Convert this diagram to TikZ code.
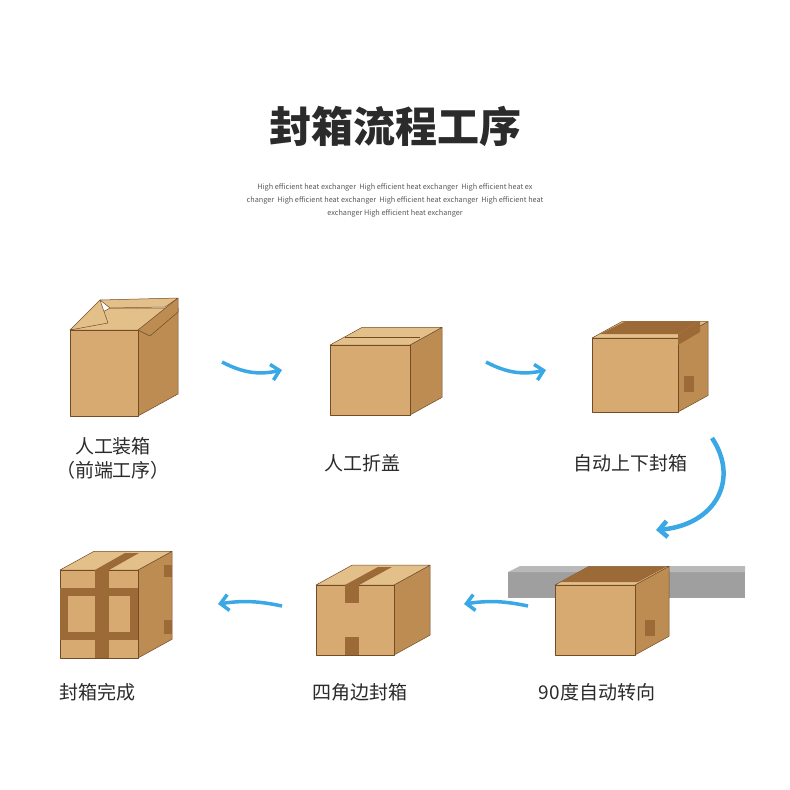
\documentclass[tikz,border=0pt]{standalone}
\usepackage{fontspec}
\setmainfont{Noto Sans CJK SC}
\usetikzlibrary{arrows.meta}
\definecolor{boxfront}{HTML}{D6AA70}
\definecolor{boxside}{HTML}{BC8C52}
\definecolor{boxtop}{HTML}{E3C08A}
\definecolor{tape}{HTML}{9C6A36}
\definecolor{flowblue}{HTML}{3AA8E4}
\definecolor{titlegray}{HTML}{2B2B2B}
\tikzset{
  label/.style={font=\fontsize{19}{24}\selectfont, align=center, text=titlegray},
  flow/.style={flowblue, line width=3.5pt, -{Straight Barb[length=8pt,width=16pt]}},
  edge/.style={draw=brown!60!black, line width=0.5pt, line join=round},
}
% x y w h d : front face top-left (x,y), width, height, depth
\newcommand{\cardbox}[5]{%
  \fill[boxside,edge] (#1+#3,#2) -- ++(#5,-#5*0.55) -- ++(0,#4) -- ++(-#5,#5*0.55) -- cycle;
  \fill[boxtop,edge] (#1,#2) -- ++(#5,-#5*0.55) -- ++(#3,0) -- ++(-#5,#5*0.55) -- cycle;
  \fill[boxfront,edge] (#1,#2) rectangle ++(#3,#4);
}
\begin{document}
\begin{tikzpicture}[x=1pt,y=-1pt]
  \useasboundingbox (0,0) rectangle (790,790);
  \fill[white] (0,0) rectangle (790,790);
  % title
  \node (title) at (395,126) [text=titlegray] {\fontsize{42}{46}\selectfont\bfseries 封箱流程工序};
  \node (sub) at (395,200) [align=center, text=gray!70!black,
    font=\fontsize{7.3}{13}\selectfont]
    {High efficient heat exchanger\ \ High efficient heat exchanger\ \ High efficient heat ex\\
     changer\ \ High efficient heat exchanger\ \ High efficient heat exchanger\ \ High efficient heat\\
     exchanger High efficient heat exchanger};
  % box 1: open
  \cardbox{70}{330}{68}{86}{40}
  \fill[boxtop,edge] (70,330) -- (100,300) -- (108,323) -- cycle;
  \fill[boxside,edge] (138,330) -- (178,298) -- (178,312) -- (150,336) -- cycle;
  \fill[boxtop,edge] (110,308) -- (100,300) -- (178,298) -- (165,307) -- cycle;
  % box 2: flaps folded
  \cardbox{330}{345}{80}{70}{32}
  \draw[edge] (345,337) -- (420,337);
  % box 3: taped top
  \cardbox{592}{338}{86}{74}{30}
  \fill[tape] (600,334) -- (626,321) -- (700,321) -- (678,334) -- cycle;
  \fill[tape] (678,334) -- (700,321) -- (700,332) -- (678,345) -- cycle;
  \fill[tape] (684,376) rectangle ++(10,16);
  % box 4: finished
  \cardbox{60}{570}{78}{88}{34}
  \fill[tape] (95,570) rectangle ++(14,88);
  \fill[tape] (60,588) rectangle ++(78,8);
  \fill[tape] (60,632) rectangle ++(78,8);
  \fill[tape] (60,596) rectangle ++(8,36);
  \fill[tape] (130,596) rectangle ++(8,36);
  \fill[tape] (95,570) -- (125,553) -- (139,553) -- (109,570) -- cycle;
  \fill[tape] (164,565) rectangle ++(8,12);
  \fill[tape] (164,620) rectangle ++(8,14);
  % box 5: corner taped
  \cardbox{316}{585}{78}{70}{36}
  \fill[tape] (345,585) rectangle ++(14,18);
  \fill[tape] (345,637) rectangle ++(14,18);
  \fill[tape] (345,585) -- (378,567) -- (392,567) -- (359,585) -- cycle;
  % box 6: conveyor
  \fill[gray!75] (508,572) rectangle (745,598);
  \fill[gray!55] (508,572) -- (520,566) -- (745,566) -- (745,572) -- cycle;
  \cardbox{555}{585}{80}{70}{34}
  \fill[tape] (560,582) -- (588,567) -- (666,567) -- (638,582) -- cycle;
  \fill[tape] (645,620) rectangle ++(10,16);
  % labels
  \node[label] (l1) at (113,458) {人工装箱\\（前端工序）};
  \node[label] (l2) at (362,463) {人工折盖};
  \node[label] (l3) at (630,463) {自动上下封箱};
  \node[label] (l4) at (97,692) {封箱完成};
  \node[label] (l5) at (360,692) {四角边封箱};
  \node[label] (l6) at (597,692) {90度自动转向};
  % flow arrows
  \coordinate (a1s) at (222,362); \coordinate (a1e) at (282,370);
  \coordinate (a2s) at (486,362); \coordinate (a2e) at (546,370);
  \coordinate (a3s) at (712,438); \coordinate (a3e) at (656,530);
  \coordinate (a4s) at (282,606); \coordinate (a4e) at (218,604);
  \coordinate (a5s) at (528,606); \coordinate (a5e) at (464,604);
  \draw[flow] (a1s) to[bend right=20] (a1e);
  \draw[flow] (a2s) to[bend right=20] (a2e);
  \draw[flow, line width=4.5pt] (a3s) .. controls (740,480) and (715,525) .. (a3e);
  \draw[flow] (a4s) to[bend right=10] (a4e);
  \draw[flow] (a5s) to[bend right=10] (a5e);
\end{tikzpicture}
\end{document}
